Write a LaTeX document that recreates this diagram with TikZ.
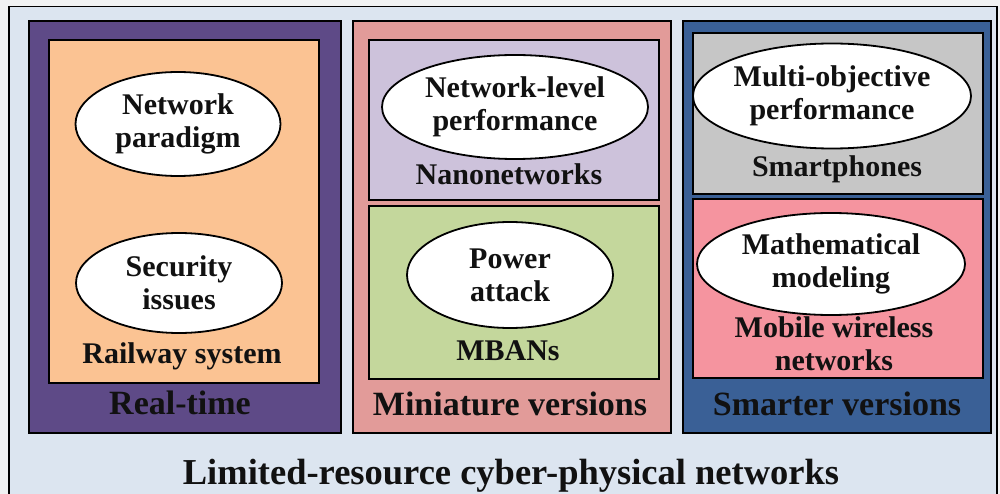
\documentclass[tikz,border=0pt]{standalone}
\usepackage{fontspec}
\setmainfont{LiberationSerif}[Extension=.ttf, UprightFont=*-Regular, BoldFont=*-Bold, ItalicFont=*-Italic, BoldItalicFont=*-BoldItalic]
\usetikzlibrary{shapes.geometric}

\definecolor{pagebg}{HTML}{F1F2F3}
\definecolor{framebg}{HTML}{DCE5F0}
\definecolor{colpurple}{HTML}{5E4A87}
\definecolor{boxorange}{HTML}{FBC393}
\definecolor{colrose}{HTML}{E29B99}
\definecolor{boxlavender}{HTML}{CDC2DB}
\definecolor{boxgreen}{HTML}{C4D79C}
\definecolor{colblue}{HTML}{3A6096}
\definecolor{boxgray}{HTML}{C6C6C6}
\definecolor{boxpink}{HTML}{F5949F}
\definecolor{ink}{HTML}{111111}

\newcommand{\innerfont}{\fontsize{30}{33}\selectfont\bfseries}
\newcommand{\colfont}{\fontsize{34}{38}\selectfont\bfseries}
\newcommand{\titlefont}{\fontsize{36.5}{40}\selectfont\bfseries}

\tikzset{
  panel/.style={draw=black, line width=2pt, anchor=north west, inner sep=0pt},
  oval/.style={ellipse, draw=black, line width=1.8pt, fill=white, inner sep=0pt,
               align=center, font=\innerfont, text=ink},
  sublabel/.style={anchor=base, font=\innerfont, text=ink, inner sep=0pt, align=center},
  collabel/.style={anchor=base, font=\colfont, text=ink, inner sep=0pt},
  titlelabel/.style={anchor=base, font=\titlefont, text=ink, inner sep=0pt}
}

\begin{document}
\begin{tikzpicture}[x=1pt, y=-1pt]
\useasboundingbox (0,0) rectangle (1000,494);
\clip (0,0) rectangle (1000,494);
\fill[pagebg] (0,0) rectangle (1000,494);

% outer frame
\node[panel, line width=1.5pt, fill=framebg, minimum width=988pt, minimum height=504pt] (frame) at (8,6) {};

% column: real-time
\node[panel, fill=colpurple, minimum width=312pt, minimum height=412pt] (realtime) at (28,20) {};
\node[panel, fill=boxorange, minimum width=270pt, minimum height=343pt] (railway) at (48,39) {};
\node[oval, minimum width=205pt, minimum height=104pt] (paradigm) at (178,124) {Network\\paradigm};
\node[oval, minimum width=206pt, minimum height=100pt] (security) at (179,283) {Security\\issues};
\node[sublabel] (railwaylbl) at (182,363) {Railway system};
\node[collabel] (realtimelbl) at (180,414) {Real-time};

% column: miniature versions
\node[panel, fill=colrose, minimum width=318pt, minimum height=412pt] (miniature) at (352,20) {};
\node[panel, fill=boxlavender, minimum width=290pt, minimum height=160pt] (nano) at (368,39) {};
\node[panel, fill=boxgreen, minimum width=290pt, minimum height=173pt] (mban) at (368,205) {};
\node[oval, minimum width=266pt, minimum height=104pt] (netlevel) at (515,107) {Network-level\\performance};
\node[oval, minimum width=206pt, minimum height=106pt] (power) at (510,275) {Power\\attack};
\node[sublabel] (nanolbl) at (509,185) {Nanonetworks};
\node[sublabel] (mbanlbl) at (508,360) {MBANs};
\node[collabel] (miniaturelbl) at (510,415) {Miniature versions};

% column: smarter versions
\node[panel, fill=colblue, minimum width=308pt, minimum height=412pt] (smarter) at (682,20) {};
\node[panel, fill=boxgray, minimum width=290pt, minimum height=161pt] (phones) at (692,32) {};
\node[panel, fill=boxpink, minimum width=290pt, minimum height=179pt] (mobile) at (692,198) {};
\node[oval, minimum width=266pt, minimum height=105pt] (multiobj) at (832,96) {Multi-objective\\performance};
\node[oval, minimum width=268pt, minimum height=102pt] (mathmod) at (831,264) {Mathematical\\modeling};
\node[sublabel] (phoneslbl) at (837,177) {Smartphones};
\node[sublabel, anchor=north] (mobilelbl) at (834,316) {Mobile wireless\\networks};
\node[collabel] (smarterlbl) at (837,415) {Smarter versions};

% overall title
\node[titlelabel] (title) at (511,484) {Limited-resource cyber-physical networks};
\end{tikzpicture}
\end{document}
